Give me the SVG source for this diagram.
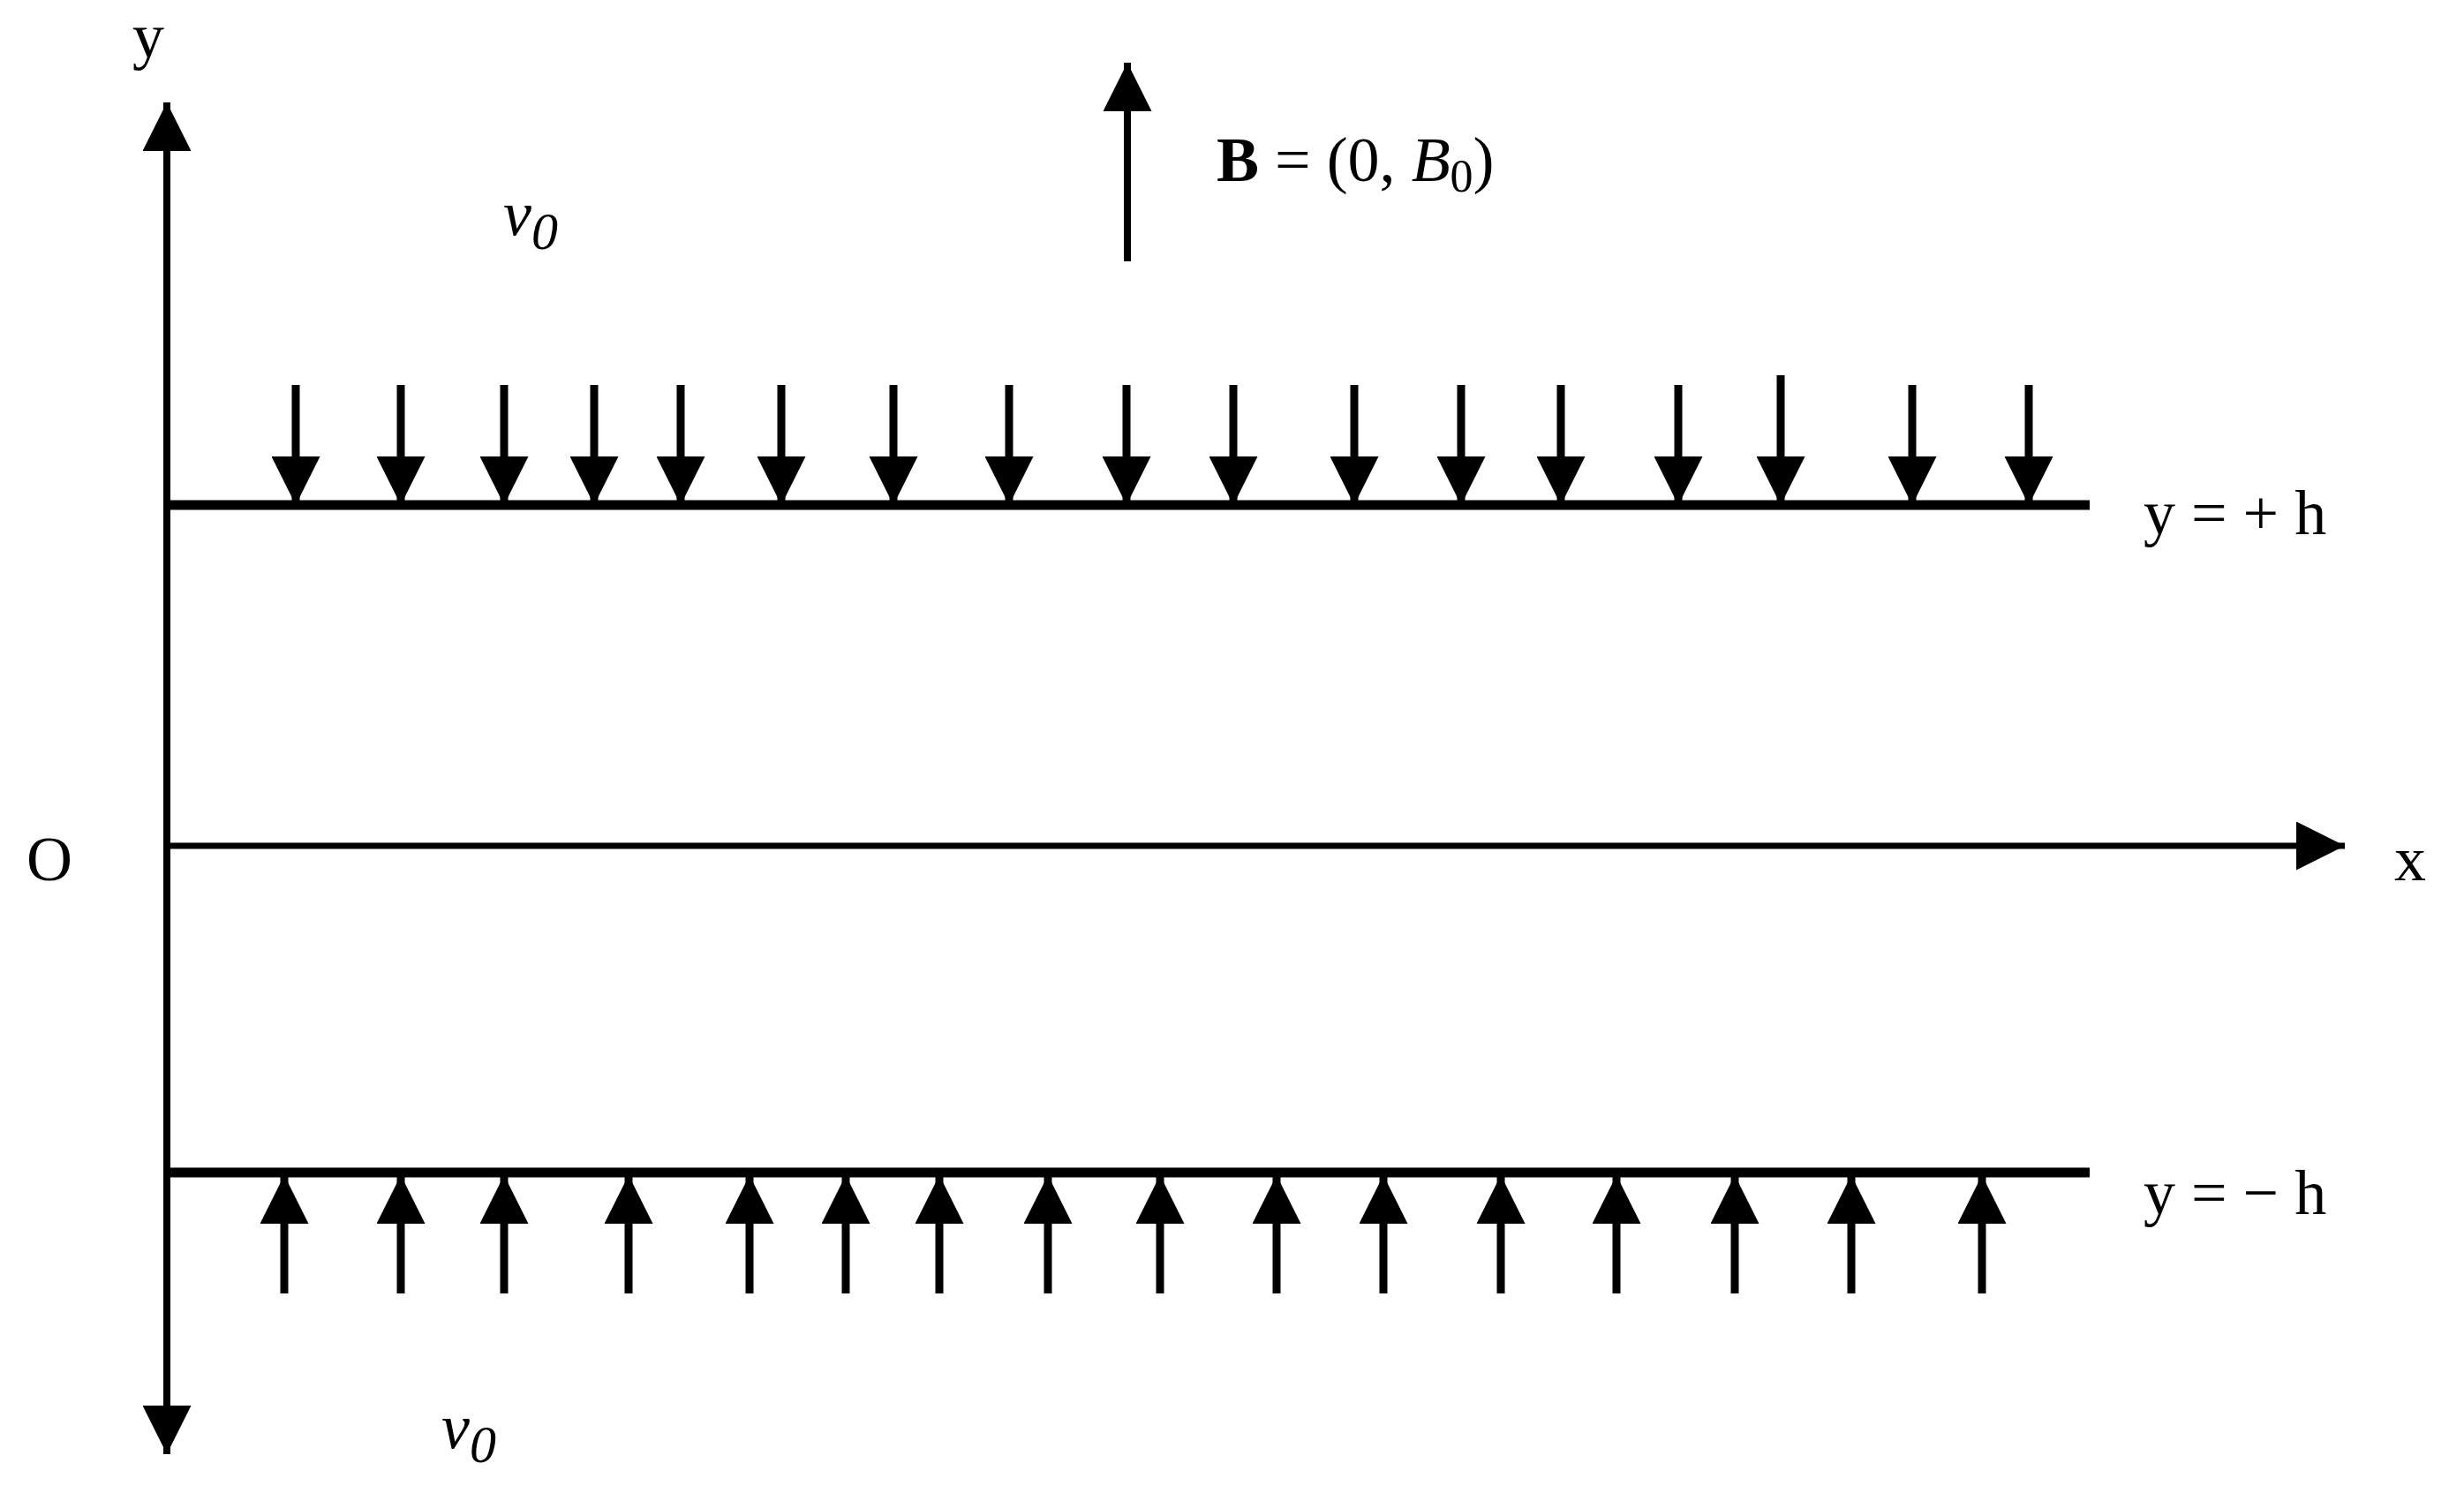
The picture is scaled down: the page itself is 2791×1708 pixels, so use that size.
<svg xmlns="http://www.w3.org/2000/svg" width="2791" height="1708" viewBox="0 0 2791 1708">
<style>
text{font-family:"Liberation Serif","Times New Roman",serif;font-size:72px;fill:#000}
.it{font-style:italic}
.ln{stroke:#000;fill:none}
</style>
<defs>
<marker id="ah" viewBox="0 0 10 10" refX="10" refY="5" markerWidth="55" markerHeight="55" markerUnits="userSpaceOnUse" orient="auto"><path d="M0,0 L10,5 L0,10 Z" fill="#000"/></marker>
</defs>
<rect width="2791" height="1708" fill="#fff"/>
<g id="connectors">
<line class="ln" x1="187" y1="572" x2="2367" y2="572" stroke-width="11"/>
<line class="ln" x1="187" y1="1328" x2="2367" y2="1328" stroke-width="11"/>
<line class="ln" x1="189" y1="958" x2="2656" y2="958" stroke-width="7" marker-end="url(#ah)"/>
<line class="ln" x1="189" y1="1000" x2="189" y2="116" stroke-width="8" marker-end="url(#ah)"/>
<line class="ln" x1="189" y1="900" x2="189" y2="1647" stroke-width="8" marker-end="url(#ah)"/>
<line class="ln" x1="1277" y1="296" x2="1277" y2="71" stroke-width="8" marker-end="url(#ah)"/>
<g stroke-width="9" class="ln" marker-end="url(#ah)">
<line x1="335" y1="436" x2="335" y2="572"/><line x1="454" y1="436" x2="454" y2="572"/><line x1="571" y1="436" x2="571" y2="572"/><line x1="673" y1="436" x2="673" y2="572"/><line x1="771" y1="436" x2="771" y2="572"/><line x1="885" y1="436" x2="885" y2="572"/><line x1="1012" y1="436" x2="1012" y2="572"/><line x1="1143" y1="436" x2="1143" y2="572"/><line x1="1276" y1="436" x2="1276" y2="572"/><line x1="1397" y1="436" x2="1397" y2="572"/><line x1="1534" y1="436" x2="1534" y2="572"/><line x1="1655" y1="436" x2="1655" y2="572"/><line x1="1768" y1="436" x2="1768" y2="572"/><line x1="1901" y1="436" x2="1901" y2="572"/><line x1="2017" y1="425" x2="2017" y2="572"/><line x1="2166" y1="436" x2="2166" y2="572"/><line x1="2298" y1="436" x2="2298" y2="572"/>
</g>
<g stroke-width="9" class="ln" marker-end="url(#ah)">
<line x1="322" y1="1465" x2="322" y2="1331"/><line x1="454" y1="1465" x2="454" y2="1331"/><line x1="571" y1="1465" x2="571" y2="1331"/><line x1="712" y1="1465" x2="712" y2="1331"/><line x1="849" y1="1465" x2="849" y2="1331"/><line x1="958" y1="1465" x2="958" y2="1331"/><line x1="1064" y1="1465" x2="1064" y2="1331"/><line x1="1187" y1="1465" x2="1187" y2="1331"/><line x1="1314" y1="1465" x2="1314" y2="1331"/><line x1="1446" y1="1465" x2="1446" y2="1331"/><line x1="1567" y1="1465" x2="1567" y2="1331"/><line x1="1700" y1="1465" x2="1700" y2="1331"/><line x1="1831" y1="1465" x2="1831" y2="1331"/><line x1="1965" y1="1465" x2="1965" y2="1331"/><line x1="2097" y1="1465" x2="2097" y2="1331"/><line x1="2245" y1="1465" x2="2245" y2="1331"/>
</g>
</g>
<g id="labels">
<text x="150" y="65">y</text>
<text x="30" y="997">O</text>
<text x="2712" y="997">x</text>
<text x="2428" y="605">y = + h</text>
<text x="2428" y="1375">y = − h</text>
<text x="570" y="266" class="it" font-size="80">v<tspan font-size="60" dy="16">0</tspan></text>
<text x="500" y="1640" class="it" font-size="80">v<tspan font-size="60" dy="16">0</tspan></text>
<text x="1378" y="205"><tspan font-weight="bold">B</tspan> = (0,  <tspan class="it">B</tspan><tspan font-size="52" dy="12">0</tspan><tspan dy="-12">)</tspan></text>
</g>
</svg>
